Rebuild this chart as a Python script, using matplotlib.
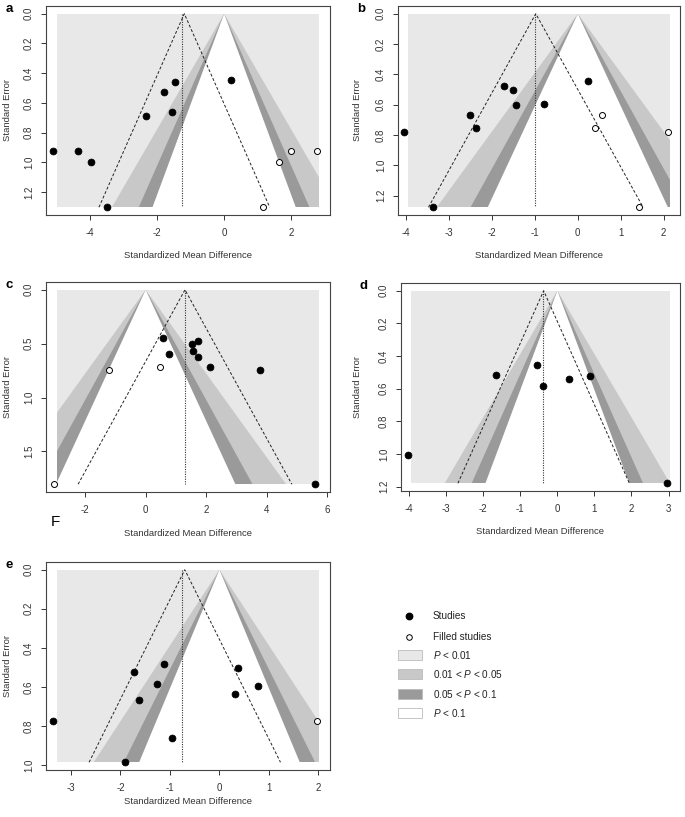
import numpy as np
import matplotlib
matplotlib.use("Agg")
import matplotlib.pyplot as plt
from matplotlib.patches import Rectangle, Polygon

plt.rcParams['font.family'] = ['Liberation Sans', 'DejaVu Sans']
plt.rcParams['mathtext.fontset'] = 'custom'
plt.rcParams['mathtext.rm'] = 'Liberation Sans'
plt.rcParams['mathtext.it'] = 'Liberation Sans:italic'

# ---------------- data ----------------
a_studies_x = [-5.13, -4.37, -3.99, -3.49, -2.33, -1.79, -1.47, -1.56, 0.20]
a_studies_se = [0.926, 0.921, 0.998, 1.302, 0.691, 0.529, 0.459, 0.660, 0.446]
a_filled_x = [1.15, 1.64, 2.00, 2.77]
a_filled_se = [1.302, 0.998, 0.921, 0.926]
a_estimate = -1.19
a_refline = -1.27
a_xrange = [-5.01, 2.85]
a_xticks = [-4, -2, 0, 2]
a_yticks = [0.0, 0.2, 0.4, 0.6, 0.8, 1.0, 1.2]

b_studies_x = [-4.05, -3.37, -2.52, -2.37, -1.71, -1.51, -1.45, -0.78, 0.24]
b_studies_se = [0.780, 1.277, 0.670, 0.754, 0.475, 0.506, 0.601, 0.597, 0.446]
b_filled_x = [0.57, 0.41, 2.10, 1.42]
b_filled_se = [0.667, 0.754, 0.780, 1.277]
b_estimate = -0.98
b_refline = -1.00
b_xrange = [-3.95, 2.14]
b_xticks = [-4, -3, -2, -1, 0, 1, 2]
b_yticks = [0.0, 0.2, 0.4, 0.6, 0.8, 1.0, 1.2]

c_studies_x = [0.585, 0.76, 1.545, 1.72, 1.58, 1.73, 2.13, 3.79, 5.61]
c_studies_se = [0.452, 0.592, 0.505, 0.474, 0.570, 0.623, 0.717, 0.745, 1.804]
c_filled_x = [-3.02, -1.20, 0.475]
c_filled_se = [1.804, 0.745, 0.717]
c_estimate = 1.30
c_refline = 1.31
c_xrange = [-2.95, 5.75]
c_xticks = [-2, 0, 2, 4, 6]
c_yticks = [0.0, 0.5, 1.0, 1.5]

d_studies_x = [-4.03, -1.655, -0.56, -0.38, 0.31, 0.885, 2.96]
d_studies_se = [1.007, 0.515, 0.454, 0.581, 0.538, 0.524, 1.180]
d_filled_x = []
d_filled_se = []
d_estimate = -0.37
d_refline = -0.40
d_xrange = [-3.94, 3.03]
d_xticks = [-4, -3, -2, -1, 0, 1, 2, 3]
d_yticks = [0.0, 0.2, 0.4, 0.6, 0.8, 1.0, 1.2]

e_studies_x = [-3.37, -1.73, -1.62, -1.12, -1.27, -0.955, -1.90, 0.38, 0.31, 0.77]
e_studies_se = [0.777, 0.522, 0.665, 0.481, 0.585, 0.861, 0.986, 0.502, 0.636, 0.597]
e_filled_x = [1.97]
e_filled_se = [0.777]
e_estimate = -0.70
e_refline = -0.75
e_xrange = [-3.29, 2.02]
e_xticks = [-3, -2, -1, 0, 1, 2]
e_yticks = [0.0, 0.2, 0.4, 0.6, 0.8, 1.0]

z_levels = [2.576, 1.96, 1.645]
contour_colors = ['#C8C8C8', '#9A9A9A', '#FFFFFF']
back_color = '#E8E8E8'
legend_labels = ['$P$ < 0.01', '0.01 < $P$ < 0.05', '0.05 < $P$ < 0.1', '$P$ < 0.1']
legend_colors = [back_color, '#C8C8C8', '#9A9A9A', '#FFFFFF']

W, H = 685, 817
fig = plt.figure(figsize=(W / 100, H / 100), dpi=100)

FS = 7.0


def add_ax(x0, y0, x1, y1):
    return fig.add_axes([x0 / W, 1 - y1 / H, (x1 - x0) / W, (y1 - y0) / H])


def funnel(box, letter, sx, sse, fx, fse, est, ref, xr, xt, yt, ylab_off=38, xlab_off=41):
    x0, y0, x1, y1 = box
    ax = add_ax(x0, y0, x1, y1)
    semax = max(list(sse) + list(fse))
    rng = xr[1] - xr[0]
    ax.set_xlim(xr[0] - 0.04 * rng, xr[1] + 0.04 * rng)
    ax.set_ylim(semax * 1.04, -semax * 0.04)
    rect = Rectangle((xr[0], 0), rng, semax, facecolor=back_color, edgecolor='none', zorder=1)
    ax.add_patch(rect)
    for z, col in zip(z_levels, contour_colors):
        poly = Polygon([(0, 0), (-z * semax, semax), (z * semax, semax)], closed=True,
                       facecolor=col, edgecolor='none', zorder=2)
        ax.add_patch(poly)
        poly.set_clip_path(rect)
    # pseudo confidence region
    ax.plot([est - 1.96 * semax, est, est + 1.96 * semax], [semax, 0, semax],
            color='#222222', lw=0.7, ls=(0, (3, 2)), zorder=3)
    ax.plot([ref, ref], [0, semax], color='#333333', lw=0.8, ls=(0, (1, 1.2)), zorder=3)
    ax.plot(sx, sse, 'o', ms=5.0, mfc='black', mec='black', mew=0.5, zorder=5, clip_on=False)
    if len(fx):
        ax.plot(fx, fse, 'o', ms=4.3, mfc='white', mec='black', mew=0.7, zorder=5, clip_on=False)
    ax.set_xticks(xt)
    ax.set_xticklabels([f"{v:g}" for v in xt])
    ax.set_yticks(yt)
    ax.set_yticklabels([f"{v:.1f}" for v in yt], rotation=90, va='center')
    ax.tick_params(axis='x', length=3.6, width=0.7, pad=5.8, labelsize=FS, colors='#333333')
    ax.tick_params(axis='y', length=3.6, width=0.7, pad=5.0, labelsize=FS, colors='#333333')
    for s in ax.spines.values():
        s.set_color('#444444')
        s.set_linewidth(0.8)
    wpx = x1 - x0
    hpx = y1 - y0
    ax.text(0.5, -xlab_off / hpx, 'Standardized Mean Difference', transform=ax.transAxes,
            ha='center', va='center', fontsize=6.8, color='#333333')
    ax.text(-ylab_off / wpx, 0.5, 'Standard Error', transform=ax.transAxes,
            ha='center', va='center', rotation=90, fontsize=6.8, color='#333333')
    fig.text((x0 - 37) / W, 1 - (y0 + 3) / H, letter, fontsize=9.5, fontweight='bold',
             ha='center', va='center')
    return ax


funnel((46, 6, 330, 215), 'a', a_studies_x, a_studies_se, a_filled_x, a_filled_se,
       a_estimate, a_refline, a_xrange, a_xticks, a_yticks)
funnel((398, 6, 680, 215), 'b', b_studies_x, b_studies_se, b_filled_x, b_filled_se,
       b_estimate, b_refline, b_xrange, b_xticks, b_yticks, ylab_off=40)
funnel((46, 282, 330, 492), 'c', c_studies_x, c_studies_se, c_filled_x, c_filled_se,
       c_estimate, c_refline, c_xrange, c_xticks, c_yticks)
funnel((401, 283, 680, 491), 'd', d_studies_x, d_studies_se, d_filled_x, d_filled_se,
       d_estimate, d_refline, d_xrange, d_xticks, d_yticks, ylab_off=43)
funnel((46, 562, 330, 770), 'e', e_studies_x, e_studies_se, e_filled_x, e_filled_se,
       e_estimate, e_refline, e_xrange, e_xticks, e_yticks, xlab_off=32)

fig.text(55 / W, 1 - 522 / H, 'F', fontsize=11, ha='center', va='center')

# legend drawn in pixel coordinates
lax = fig.add_axes([0, 0, 1, 1], zorder=10)
lax.set_xlim(0, W)
lax.set_ylim(H, 0)
lax.axis('off')
lax.plot([409], [616], 'o', ms=4.6, mfc='black', mec='black')
lax.plot([409], [637], 'o', ms=4.0, mfc='white', mec='black', mew=0.7)
lax.text(433, 616, 'Studies', fontsize=7.2, va='center', ha='left', color='#222222')
lax.text(433, 637, 'Filled studies', fontsize=7.2, va='center', ha='left', color='#222222')
for i, (lab, col) in enumerate(zip(legend_labels, legend_colors)):
    yc = 655 + i * 19.4
    lax.add_patch(Rectangle((398, yc - 5), 24, 10, facecolor=col, edgecolor='#BBBBBB', lw=0.6))
    lax.text(433, yc, lab, fontsize=7.2, va='center', ha='left', color='#222222')

fig.savefig('out.png', dpi=100)
